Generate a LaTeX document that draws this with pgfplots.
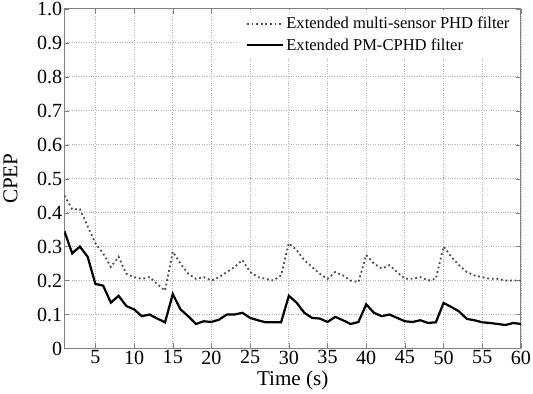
\documentclass[border=0pt]{standalone}
\usepackage{pgfplots}
\pgfplotsset{compat=1.18}
\usepackage{fontspec}
\setmainfont{Liberation Serif}

\pgfplotstableread{
t phd pmc
1 0.45 0.345
2 0.41 0.28
3 0.41 0.30
4 0.36 0.27
5 0.31 0.19
6 0.28 0.185
7 0.24 0.135
8 0.27 0.155
9 0.22 0.125
10 0.21 0.115
11 0.205 0.095
12 0.21 0.10
13 0.19 0.088
14 0.17 0.077
15 0.285 0.16
16 0.25 0.115
17 0.22 0.095
18 0.205 0.072
19 0.21 0.08
20 0.20 0.078
21 0.21 0.085
22 0.225 0.10
23 0.24 0.10
24 0.26 0.105
25 0.225 0.09
26 0.21 0.083
27 0.205 0.077
28 0.20 0.077
29 0.215 0.077
30 0.31 0.155
31 0.29 0.135
32 0.26 0.105
33 0.24 0.09
34 0.22 0.088
35 0.205 0.078
36 0.225 0.093
37 0.215 0.083
38 0.20 0.072
39 0.195 0.078
40 0.275 0.13
41 0.25 0.105
42 0.235 0.095
43 0.245 0.10
44 0.225 0.09
45 0.205 0.08
46 0.205 0.078
47 0.21 0.083
48 0.20 0.075
49 0.205 0.077
50 0.30 0.134
51 0.27 0.122
52 0.245 0.109
53 0.225 0.087
54 0.215 0.083
55 0.21 0.077
56 0.205 0.075
57 0.205 0.072
58 0.20 0.069
59 0.20 0.075
60 0.20 0.072
}\data

\begin{document}
\begin{tikzpicture}
\begin{axis}[
    scale only axis,
    width=453bp, height=337bp,
    xmin=1, xmax=60, ymin=0, ymax=1,
    xtick={5,10,...,60},
    ytick={0,0.1,...,1.0},
    yticklabels={0,0.1,0.2,0.3,0.4,0.5,0.6,0.7,0.8,0.9,1.0},
    /pgf/number format/assume math mode=true,
    tick label style={font=\fontsize{20}{22}\selectfont},
    xticklabel style={inner sep=2pt},
    yticklabel style={inner sep=2pt},
    label style={font=\fontsize{21}{23}\selectfont},
    xlabel={Time (s)},
    ylabel={CPEP},
    xlabel style={yshift=-1pt},
    ylabel style={yshift=14pt},
    axis line style={gray, line width=1pt},
    tick style={gray},
    major tick length=5pt,
    tick align=inside,
    grid=major,
    major grid style={gray!60, dotted, line width=0.9pt},
    legend style={at={(1,1)}, xshift=-1.2bp, yshift=-1.2bp, anchor=north east,
        draw=none, fill=white,
        font=\fontsize{16.5}{18}\selectfont, cells={anchor=west},
        inner xsep=8pt, inner ysep=5pt, row sep=4pt},
    legend cell align=left,
    legend image code/.code={\draw[#1] (0bp,0bp) -- (36bp,0bp);},
]
\addplot[black!70, dash pattern=on 1.8pt off 2.8pt, line width=1.8pt] table[x=t, y=phd] {\data};
\addlegendentry{Extended multi-sensor PHD filter}
\addplot[black, line width=2.2pt] table[x=t, y=pmc] {\data};
\addlegendentry{Extended PM-CPHD filter}
\end{axis}
\end{tikzpicture}
\end{document}
